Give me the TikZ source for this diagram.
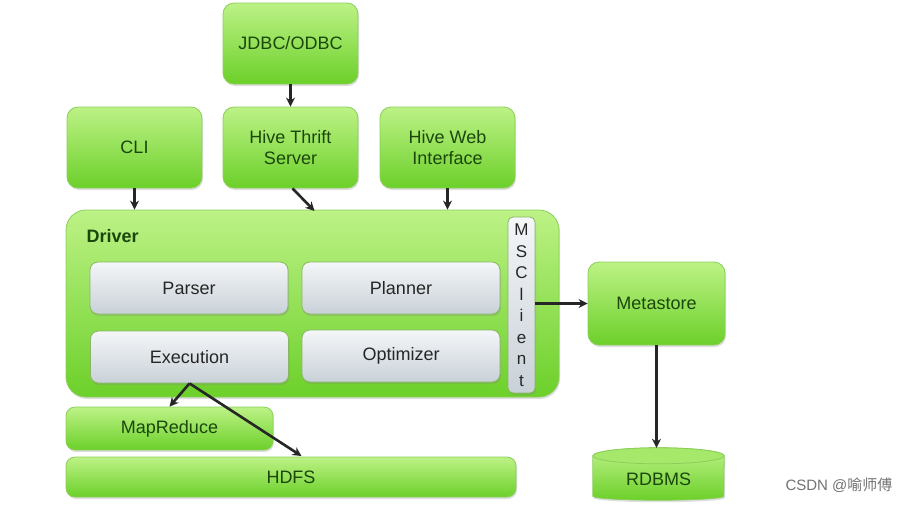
\documentclass[tikz,border=0pt]{standalone}
\usepackage{fontspec}
\setmainfont{Liberation Sans}
\newfontfamily\cjk{Noto Sans CJK SC}
\usetikzlibrary{shadows,arrows.meta}
\definecolor{gtop}{HTML}{BDF286}
\definecolor{gbot}{HTML}{6CD02A}
\definecolor{gline}{HTML}{8ACF5A}
\definecolor{gtext}{HTML}{1B470C}
\definecolor{stop}{HTML}{F4F6F8}
\definecolor{sbot}{HTML}{C9D1D8}
\begin{document}
\begin{tikzpicture}[x=1pt,y=-1pt,
  gbox/.style={draw=gline, line width=0.8pt, rounded corners=11pt, top color=gtop, bottom color=gbot,
    drop shadow={shadow xshift=1pt, shadow yshift=-2pt, opacity=0.25},
    text=gtext, font=\fontsize{18}{21}\selectfont, align=center, inner sep=0pt},
  sbox/.style={draw=gline!70!gray, line width=0.8pt, rounded corners=8pt, top color=stop, bottom color=sbot,
    drop shadow={shadow xshift=1pt, shadow yshift=-2pt, opacity=0.25},
    text=black!85, font=\fontsize{18}{21}\selectfont, inner sep=0pt},
  arr/.style={-{Stealth[length=9pt,width=9pt]}, line width=2.6pt, black!85}]
\useasboundingbox (0,0) rectangle (917,504);
\fill[white] (0,0) rectangle (917,504);
% top boxes
\node[gbox, minimum width=135pt, minimum height=81pt] (jdbc) at (290.5,43.5) {JDBC/ODBC};
\node[gbox, minimum width=135pt, minimum height=81pt] (cli) at (134.5,147.5) {CLI};
\node[gbox, minimum width=135pt, minimum height=81pt] (thrift) at (290.5,147.5) {Hive Thrift\\Server};
\node[gbox, minimum width=135pt, minimum height=81pt] (web) at (447.5,147.5) {Hive Web\\Interface};
% driver
\node[gbox, rounded corners=20pt, minimum width=493pt, minimum height=187pt] (driver) at (312.5,303.5) {};
\node[anchor=west, text=gtext, font=\fontsize{18}{21}\selectfont\bfseries] (drvlbl) at (83,236) {Driver};
\node[sbox] (parser) [minimum width=198pt, minimum height=52pt] at (189,288) {Parser};
\node[sbox] (planner) [minimum width=198pt, minimum height=52pt] at (401,288) {Planner};
\node[sbox] (exec) [minimum width=198pt, minimum height=52pt] at (189.5,357) {Execution};
\node[sbox] (opt) [minimum width=198pt, minimum height=52pt] at (401,356) {Optimizer};
\node[sbox, rounded corners=5pt, minimum width=27pt, minimum height=176pt, align=center,
  font=\fontsize{17}{21.5}\selectfont] (ms) at (521.5,305) {M\\S\\C\\l\\i\\e\\n\\t};
% metastore
\node[gbox, minimum width=137pt, minimum height=83pt] (meta) at (656.5,303.5) {Metastore};
% bottom
\node[gbox, rounded corners=9pt, minimum width=207pt, minimum height=43pt] (mr) at (169.5,428.5) {MapReduce};
\node[gbox, rounded corners=9pt, minimum width=450pt, minimum height=40pt] (hdfs) at (291,477) {HDFS};
% RDBMS cylinder
\node[minimum width=131pt, minimum height=52pt, inner sep=0pt] (rdbmsbox) at (658.5,474) {};
\draw[draw=gline, line width=0.8pt, top color=gtop, bottom color=gbot,
  drop shadow={shadow xshift=1pt, shadow yshift=-2pt, opacity=0.25}]
  ([yshift=-8pt]rdbmsbox.north west) -- ([yshift=4pt]rdbmsbox.south west)
  arc[start angle=180, end angle=360, x radius=65.5pt, y radius=4pt]
  -- ([yshift=-8pt]rdbmsbox.north east)
  arc[start angle=0, end angle=180, x radius=65.5pt, y radius=8pt] -- cycle;
\draw[draw=gline, line width=0.8pt, fill=gtop!70!gbot]
  ([yshift=-8pt]rdbmsbox.north) ellipse[x radius=65.5pt, y radius=8pt];
\node[text=gtext, font=\fontsize{18}{21}\selectfont] (rdbms) at (658.5,479) {RDBMS};
% arrows
\coordinate (thr2) at (314.5,211);
\coordinate (hdfsin) at (301.5,456);
\draw[arr] (jdbc.south) -- (thrift.north);
\draw[arr] (cli.south) -- (cli.south |- driver.north);
\draw[arr] ([xshift=2pt]thrift.south) -- (thr2);
\draw[arr] (web.south) -- (web.south |- driver.north);
\draw[arr] (ms.east |- meta.west) -- (meta.west);
\draw[arr] (meta.south) -- (meta.south |- rdbmsbox.north);
\draw[arr] (exec.south) -- (mr.north);
\draw[arr] (exec.south) -- (hdfsin);
% watermark
\node[text=black!55, font=\fontsize{15}{17}\selectfont] (wm) at (839,485) {CSDN @\cjk 喻师傅};
\end{tikzpicture}
\end{document}
